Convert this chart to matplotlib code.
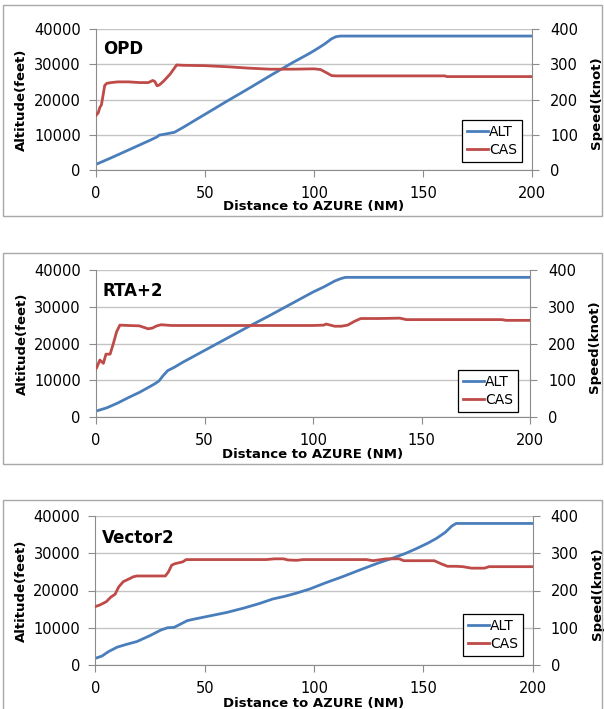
import matplotlib
matplotlib.use("Agg")
import matplotlib.pyplot as plt
from matplotlib.patches import Rectangle

W, H = 604, 709

# --- data -----------------------------------------------------------
panel_titles = ["OPD", "RTA+2", "Vector2"]

opd_alt_x = [0, 3, 6, 10, 15, 20, 25, 28, 29, 31, 36, 40, 50, 60, 70, 80,
             90, 98, 102, 105, 108, 110, 112, 150, 200]
opd_alt = [1600, 2400, 3200, 4300, 5700, 7100, 8500, 9400, 9900, 10100,
           10700, 12100, 15800, 19500, 23100, 26800, 30400, 33100, 34600,
           35800, 37200, 37800, 38000, 38000, 38000]
opd_cas_x = [0, 1, 1.8, 2.5, 4, 5, 7, 10, 15, 20, 24, 26, 27, 28, 29, 31, 34,
             37, 40, 50, 60, 70, 80, 90, 100, 103, 106, 108, 110, 150, 160,
             161, 200]
opd_cas = [155, 162, 178, 185, 240, 246, 248, 250, 250, 248, 248, 254, 251,
           239, 241, 252, 272, 298, 297, 296, 293, 289, 286, 286, 287, 285,
           275, 268, 267, 267, 267, 265, 265]

rta_alt_x = [0, 5, 10, 15, 20, 24, 27, 29, 31, 33, 36, 40, 50, 60, 70, 80,
             90, 100, 105, 110, 113, 115, 200]
rta_alt = [1600, 2500, 3800, 5300, 6700, 8000, 9000, 9800, 11300, 12600,
           13500, 14900, 18100, 21300, 24500, 27600, 30800, 34000, 35400,
           37000, 37700, 38000, 38000]
rta_cas_x = [0, 0.3, 1.8, 3.4, 4.6, 6.5, 8.0, 9.5, 11, 15, 20, 22, 24, 26,
             28, 30, 35, 50, 100, 105, 106, 108, 110, 113, 116, 119, 122, 130,
             140, 143, 187, 189, 200]
rta_cas = [132, 134, 155, 146, 171, 171, 200, 232, 250, 249, 248, 244, 240,
           242, 248, 251, 249, 249, 249, 250, 253, 250, 247, 247, 250, 260,
           268, 268, 269, 265, 265, 263, 263]

vec_alt_x = [0, 3, 6, 10, 14, 19, 25, 30, 33, 36, 39, 42, 45, 50, 60, 68, 75,
             81, 87, 92, 98, 105, 113, 120, 129, 136, 142, 147, 152, 156, 160,
             163, 165, 200]
vec_alt = [1800, 2400, 3600, 4800, 5500, 6300, 7900, 9400, 10000, 10100,
           11000, 11900, 12300, 12900, 14100, 15300, 16500, 17700, 18500,
           19300, 20400, 22000, 23700, 25300, 27300, 28700, 30000, 31300,
           32700, 34000, 35600, 37300, 38000, 38000]
vec_cas_x = [0, 2, 5, 7, 9, 10.7, 12.8, 15, 17.4, 19, 32, 33.4, 34.9, 36.4,
             40, 41.5, 45, 60, 70, 78, 82, 86, 88, 92, 95, 100, 124, 127, 133,
             139, 141, 150, 155, 158, 161, 165, 168, 172, 178, 180, 200]
vec_cas = [157, 161, 170, 182, 190, 210, 224, 230, 237, 239, 239, 250, 268,
           272, 277, 283, 283, 283, 283, 283, 285, 285, 282, 281, 283, 283,
           283, 280, 285, 285, 280, 280, 280, 272, 265, 265, 264, 260, 260,
           264, 264]

x_ticks = [0, 50, 100, 150, 200]
alt_ticks = [0, 10000, 20000, 30000, 40000]
spd_ticks = [0, 100, 200, 300, 400]

# --- layout (pixel boxes measured on the reference) --------------------
frames = [(3, 5, 602, 216), (3, 253, 602, 464), (3, 500, 602, 712)]
plot_boxes = [(96, 29, 532, 170), (96, 270, 530, 417), (95.4, 516, 532.7, 665)]
legend_anchor = [(0.977, 0.057), (0.972, 0.034), (0.978, 0.06)]

BLUE = "#4a7ebb"
RED = "#be4b48"
AXIS_GREY = "#8c8c8c"
GRID_GREY = "#c4c4c4"

plt.rcParams["font.family"] = "DejaVu Sans"

fig = plt.figure(figsize=(W / 100, H / 100), dpi=100)

series = [(opd_alt_x, opd_alt, opd_cas_x, opd_cas),
          (rta_alt_x, rta_alt, rta_cas_x, rta_cas),
          (vec_alt_x, vec_alt, vec_cas_x, vec_cas)]

for i, (ax_x, alt, cas_x, cas) in enumerate(series):
    l, t, r, b = frames[i]
    fig.add_artist(Rectangle((l / W, 1 - b / H), (r - l) / W, (b - t) / H,
                             transform=fig.transFigure, fill=False,
                             edgecolor="#a8a8a8", linewidth=1))

    l, t, r, b = plot_boxes[i]
    ax = fig.add_axes([l / W, 1 - b / H, (r - l) / W, (b - t) / H])
    ax2 = ax.twinx()

    line_alt, = ax.plot(ax_x, alt, color=BLUE, linewidth=2, label="ALT")
    line_cas, = ax2.plot(cas_x, cas, color=RED, linewidth=2, label="CAS")

    ax.set_xlim(0, 200)
    ax.set_ylim(0, 40000)
    ax2.set_ylim(0, 400)
    ax.set_xticks(x_ticks)
    ax.set_yticks(alt_ticks)
    ax2.set_yticks(spd_ticks)
    ax.yaxis.grid(True, color=GRID_GREY, linewidth=1)
    ax.set_axisbelow(True)

    for a in (ax, ax2):
        a.spines["top"].set_visible(False)
        for s in ("left", "right", "bottom"):
            a.spines[s].set_color(AXIS_GREY)
    ax.spines["right"].set_visible(False)
    ax2.spines["left"].set_visible(False)
    ax2.spines["bottom"].set_visible(False)

    ax.tick_params(axis="x", length=5, color=AXIS_GREY, pad=6.5,
                   labelsize=10.5)
    ax.tick_params(axis="y", length=5, color=AXIS_GREY, pad=6,
                   labelsize=10.5)
    ax2.tick_params(axis="y", length=5, color=AXIS_GREY, pad=8,
                    labelsize=10.5)

    # the reference lets this label sit tight under the tick labels
    ax.set_xlabel("Distance to AZURE (NM)", fontsize=9.5, fontweight="bold")
    ax.xaxis.set_label_coords(0.5, -0.212)
    ax.set_ylabel("Altitude(feet)", fontsize=9.5, fontweight="bold")
    ax.yaxis.set_label_coords(-0.155, 0.5)
    ax2.set_ylabel("Speed(knot)", fontsize=9.5, fontweight="bold")
    ax2.yaxis.set_label_coords(1.133, 0.48)

    ax.text(0.016, 0.82, panel_titles[i], transform=ax.transAxes,
            fontsize=12, fontweight="bold", va="baseline", ha="left")

    leg = ax2.legend(handles=[line_alt, line_cas], loc="lower right",
                     bbox_to_anchor=legend_anchor[i], fontsize=10,
                     fancybox=False, framealpha=1, edgecolor="black",
                     handlelength=1.5, handletextpad=0.1, borderpad=0.35,
                     labelspacing=0.3, borderaxespad=0)
    leg.get_frame().set_linewidth(0.9)

fig.savefig("out.png", dpi=100)
